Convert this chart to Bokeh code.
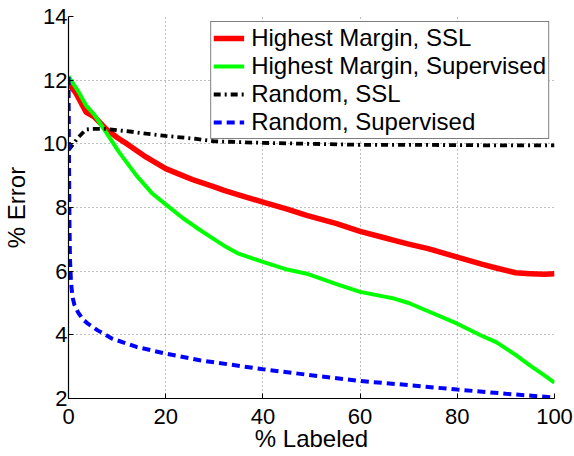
from bokeh.plotting import figure
from bokeh.models import Range1d, FixedTicker, Legend, LegendItem
from bokeh.embed import file_html
from bokeh.resources import INLINE

# ---- data ----
x_hm_ssl = [0, 1.5, 3.6, 5.3, 7.7, 10, 12.5, 16, 20, 23.5, 26, 30, 32, 35, 40, 45, 49, 55, 60,
            65, 67, 70, 74, 80, 85, 88, 92, 95, 98, 100]
hm_ssl = [11.9, 11.6, 11.0, 10.85, 10.47, 10.2, 9.95, 9.58, 9.22, 9.0, 8.85, 8.65, 8.54,
          8.4, 8.17, 7.95, 7.75, 7.5, 7.25, 7.05, 6.97, 6.85, 6.71, 6.44, 6.22, 6.1, 5.95, 5.92, 5.9, 5.92]

x_hm_sup = [0, 2, 3.6, 5.3, 7.7, 10.4, 14, 17.3, 20, 23.5, 26.2, 30, 32, 35, 40, 45, 49, 55, 60,
            65, 67, 70, 74, 80, 85, 88, 92, 95, 98, 100]
hm_sup = [12.12, 11.65, 11.21, 10.92, 10.37, 9.74, 9.0, 8.43, 8.1, 7.67, 7.38, 7.0, 6.8,
          6.55, 6.29, 6.05, 5.92, 5.6, 5.35, 5.2, 5.14, 5.0, 4.74, 4.35, 3.97, 3.77, 3.37, 3.03, 2.72, 2.5]

x_r = [0, 1, 2, 3.6, 5, 7.7, 10, 13, 16, 20, 26, 30, 40, 50, 60, 70, 80, 90, 100]
r_ssl = [9.8, 10.0, 10.2, 10.45, 10.47, 10.47, 10.43, 10.38, 10.32, 10.25, 10.16, 10.08,
         10.03, 10.0, 9.97, 9.97, 9.96, 9.95, 9.95]

x_rs = [0, 0.1, 0.2, 0.3, 0.5, 0.8, 1.2, 2, 3, 4, 6, 9, 14, 20, 27, 40, 50, 60, 70, 80, 90, 100]
r_sup = [12.1, 9.5, 7.5, 6.4, 5.7, 5.2, 4.95, 4.7, 4.48, 4.35, 4.14, 3.88, 3.62, 3.41, 3.2,
         2.92, 2.73, 2.55, 2.42, 2.28, 2.15, 2.03]

x_ticks = [0, 20, 40, 60, 80, 100]
y_ticks = [2, 4, 6, 8, 10, 12, 14]

series_names = ["Highest Margin, SSL", "Highest Margin, Supervised", "Random, SSL", "Random, Supervised"]

FONT = "Liberation Sans"

p = figure(width=574, height=456,
           min_border_left=68, min_border_right=20, min_border_top=16, min_border_bottom=58,
           x_range=Range1d(0, 100), y_range=Range1d(2, 14),
           output_backend="svg", toolbar_location=None)
p.outline_line_color = None
p.background_fill_color = "white"
p.border_fill_color = "white"

for ax in (p.xaxis[0], p.yaxis[0]):
    ax.axis_line_color = "black"
    ax.axis_line_width = 1.2
    ax.major_tick_in = 5
    ax.major_tick_out = 0
    ax.major_tick_line_color = "black"
    ax.minor_tick_line_color = None
    ax.major_label_text_font = FONT
    ax.major_label_text_font_size = "22px"
    ax.major_label_text_color = "black"
    ax.axis_label_text_font = FONT
    ax.axis_label_text_font_size = "24px"
    ax.axis_label_text_font_style = "normal"
    ax.axis_label_text_color = "black"

p.xaxis.ticker = FixedTicker(ticks=x_ticks)
p.yaxis.ticker = FixedTicker(ticks=y_ticks)
p.xaxis.axis_label = "% Labeled"
p.yaxis.axis_label = "% Error"
p.xaxis.major_label_standoff = 10
p.yaxis.major_label_standoff = 1
p.xaxis.axis_label_standoff = -2
p.yaxis.axis_label_standoff = 10

for g in (p.xgrid[0], p.ygrid[0]):
    g.grid_line_color = "#7f7f7f"
    g.grid_line_dash = "1 3"
    g.grid_line_width = 1

r1 = p.line(x_hm_ssl, hm_ssl, line_color="#ff0000", line_width=5.5, line_join="round")
r2 = p.line(x_hm_sup, hm_sup, line_color="#00ff00", line_width=4, line_join="round")
r3 = p.line(x_r, r_ssl, line_color="black", line_width=3.8, line_dash="7 4 2 4")
r4 = p.line(x_rs, r_sup, line_color="#0000ff", line_width=4, line_dash="8 5")

legend = Legend(items=[LegendItem(label=series_names[0], renderers=[r1]),
                       LegendItem(label=series_names[1], renderers=[r2]),
                       LegendItem(label=series_names[2], renderers=[r3]),
                       LegendItem(label=series_names[3], renderers=[r4])],
                location="top_right")
legend.label_text_font = FONT
legend.label_text_font_size = "24px"
legend.label_text_color = "black"
legend.label_height = 28
legend.glyph_height = 28
legend.glyph_width = 31
legend.label_standoff = 7
legend.spacing = 0
legend.padding = 2
legend.margin = 5
legend.border_line_color = "black"
legend.border_line_width = 1.5
legend.background_fill_color = "white"
legend.background_fill_alpha = 1
p.add_layout(legend)

open("out.html", "w").write(file_html(p, INLINE))
